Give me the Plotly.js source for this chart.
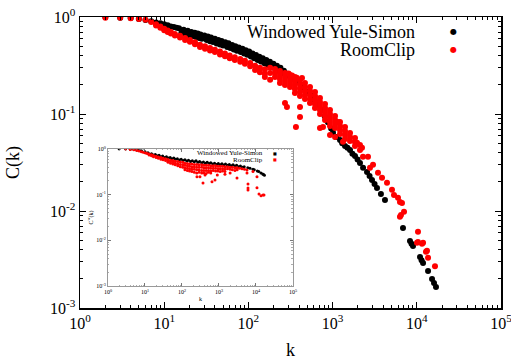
<!DOCTYPE html>
<html>
<head>
<meta charset="utf-8">
<script src="https://cdn.plot.ly/plotly-3.0.1.min.js"></script>
<style>html,body{margin:0;padding:0;background:#fff}#chart{width:511px;height:360px}</style>
</head>
<body>
<div id="chart"></div>
<script>
const seriesNames = ['Windowed Yule-Simon', 'RoomClip'];
const xTickVals = [1, 10, 100, 1000, 10000, 100000];
const xTickText = ['10<sup>0</sup>', '10<sup>1</sup>', '10<sup>2</sup>', '10<sup>3</sup>', '10<sup>4</sup>', '10<sup>5</sup>'];
const yTickVals = [0.001, 0.01, 0.1, 1];
const yTickText = ['10<sup>-3</sup>', '10<sup>-2</sup>', '10<sup>-1</sup>', '10<sup>0</sup>'];

// Main panel: Windowed Yule-Simon C(k)
const mainBlackK = [2,3,4,5,6,7,8,9,10,11,12,13,14,15,17,19,21,23,25,27,30,33,36,40,44,48,53,58,64,70,77,85,93,102,112,123,135,148,163,180,198,218,240,264,290,320,350,385,420,460,505,555,610,670,735,805,880,960,1011,1100,1225,1300,1404,1500,1610,1720,1845,1980,2115,2300,2563,2750,2937,3150,3367,3750,4188,6855,8300,8650,9020,10920,11400,11860,13600,15170,16010,16900,
  16,18,20,22,24,26,28,32,35,38,42,46,50,56,61,67,73,81,89,97,107,117,129,141,155,171,189,208,229,252,277];
const mainBlackC = [1.0,0.985,0.975,0.955,0.93,0.905,0.88,0.86,0.84,0.82,0.80,0.79,0.775,0.765,0.74,0.72,0.70,0.69,0.675,0.66,0.645,0.63,0.615,0.595,0.58,0.565,0.55,0.535,0.515,0.50,0.485,0.47,0.455,0.44,0.42,0.405,0.39,0.375,0.36,0.345,0.33,0.315,0.30,0.28,0.26,0.245,0.23,0.215,0.20,0.185,0.17,0.155,0.14,0.125,0.11,0.095,0.082,0.071,0.064,0.058,0.054,0.05,0.0468,0.045,0.0425,0.039,0.0369,0.034,0.0313,0.028,0.0252,0.023,0.0209,0.019,0.0173,0.015,0.013,0.00668,0.00491,0.0046,0.00436,0.00336,0.0031,0.00291,0.00241,0.00199,0.00181,0.00165,
  0.684,0.664,0.646,0.632,0.621,0.607,0.596,0.578,0.564,0.551,0.534,0.521,0.509,0.492,0.478,0.461,0.449,0.435,0.42,0.408,0.391,0.376,0.361,0.348,0.334,0.32,0.307,0.293,0.279,0.264,0.246];

// Main panel: RoomClip C(k)
const mainRedK = [2,3,4,5,6,7,
  8,8,9,9,10,10,11,11,12,12,13.4,13.4,15.4,15.4,17.7,17.7,20.2,20.2,23.2,23.2,26.6,26.6,30.5,30.5,35,35,40,40,46,46,52.7,52.7,60,60,69,69,80,80,91,91,105,105,120,120,137,137,157,157,157,181,181,181,
  207,207,207,237,237,237,237,272,272,272,272,312,312,312,312,357,357,357,357,357,410,410,410,410,410,470,470,470,470,470,539,539,539,539,539,618,618,618,618,618,708,708,708,708,708,813,813,813,813,813,931,931,931,931,931,1069,1069,1069,1069,1225,1225,1225,1225,1404,1404,1404,1404,1610,1610,1610,1845,1845,1845,2115,2115,
  300,330,375,
  272,287,410,410,367,708,931,1159,1069,433,769,1330,1950,
  2234,2296,2633,2781,3020,3460,3863,4428,5074,5360,5980,6310,6670,7050,6490,6310,10330,10050,10330,11530,11860,12850,13210,13600,16440];
const mainRedC = [0.98,0.98,0.97,0.955,0.935,0.89,
  0.84,0.815,0.80,0.775,0.755,0.73,0.725,0.70,0.70,0.675,0.668,0.645,0.64,0.615,0.607,0.58,0.58,0.555,0.55,0.525,0.518,0.49,0.50,0.47,0.48,0.452,0.46,0.435,0.44,0.41,0.42,0.395,0.40,0.375,0.385,0.36,0.37,0.345,0.355,0.33,0.335,0.31,0.315,0.285,0.30,0.27,0.29,0.26,0.24,0.30,0.265,0.225,
  0.291,0.265,0.241, 0.277,0.252,0.230,0.209, 0.265,0.241,0.219,0.199, 0.252,0.230,0.209,0.190, 0.241,0.219,0.199,0.181,0.165, 0.224,0.204,0.185,0.169,0.153, 0.209,0.190,0.173,0.157,0.143, 0.190,0.173,0.157,0.143,0.130, 0.169,0.153,0.139,0.127,0.1153, 0.146,0.133,0.121,0.110,0.100, 0.127,0.1153,0.105,0.0953,0.0868, 0.110,0.100,0.091,0.0828,0.0752, 0.0953,0.0868,0.0789,0.0717, 0.0828,0.0752,0.0684,0.0622, 0.0736,0.0668,0.0608,0.0553, 0.0637,0.058,0.0527, 0.0566,0.0514,0.0468, 0.0479,0.0425,
  0.262,0.25,0.236,
  0.130,0.118,0.118,0.0932,0.0736,0.0719,0.0608,0.0828,0.058,0.235,0.0736,0.0516,0.0504,
  0.0448,0.0362,0.0362,0.0279,0.030,0.0248,0.022,0.0195,0.0166,0.0146,0.0137,0.0124,0.0121,0.0098,0.0091,0.0087,0.0061,0.0047,0.0048,0.0046,0.0047,0.0038,0.0039,0.0033,0.0027];

// Inset: C^w(k)
const insetBlackK = [2,3,4,5,6,7,8,10,12,15,19,24,30,38,48,60,75,95,120,150,190,240,300,380,480,600,760,960,1200,1500,1900,2400,3000,3800,4800,6000,6900,8300,9000,10900,11900,13600,15200,16000,16900,
  13,17,21,27,34,43,54,67,85,107,135,170,215,270,340,430,540,680,860,1080,1350,1700,2150,2700,3400,4300];
const insetBlackC = [1.0,1.0,0.99,0.97,0.95,0.93,0.91,0.87,0.83,0.79,0.76,0.73,0.70,0.68,0.655,0.635,0.615,0.595,0.58,0.565,0.555,0.55,0.535,0.52,0.51,0.50,0.49,0.48,0.475,0.47,0.46,0.45,0.44,0.425,0.41,0.39,0.378,0.36,0.35,0.33,0.32,0.30,0.285,0.275,0.265,
  0.775,0.735,0.71,0.68,0.655,0.635,0.612,0.594,0.575,0.558,0.544,0.532,0.524,0.515,0.50,0.49,0.48,0.47,0.46,0.453,0.448,0.442,0.432,0.423,0.41,0.397];
const insetRedK = [3,4,5,6,7,8,9,10,11,12,
  13,13,15,15,17,17,20,20,23,23,27,27,31,31,36,36,
  42,42,42,49,49,49,57,57,57,66,66,66,77,77,77,90,90,90,105,105,105,
  120,120,120,120,140,140,140,140,160,160,160,160,185,185,185,185,215,215,215,215,250,250,250,250,290,290,290,290,340,340,340,340,390,390,390,390,450,450,450,450,520,520,520,520,600,600,600,600,
  700,700,700,810,810,810,940,940,940,1080,1080,1080,1250,1250,1250,1450,1450,1450,
  1700,1700,2000,2000,2300,2300,2700,2700,3100,3100,3600,4200,4900,
  254,306,370,647,780,3065,5710,5710,6080,6080,6080,8300,10640,10640,12050,13650,15450,16450,1450,2000,420,900];
const insetRedC = [1.0,0.98,0.96,0.93,0.90,0.87,0.85,0.83,0.81,0.79,
  0.77,0.74,0.75,0.71,0.72,0.68,0.69,0.65,0.67,0.63,0.65,0.60,0.63,0.58,0.61,0.56,
  0.59,0.54,0.51,0.57,0.53,0.49,0.56,0.51,0.47,0.54,0.49,0.45,0.53,0.47,0.43,0.52,0.46,0.41,0.51,0.45,0.40,
  0.49,0.44,0.39,0.35, 0.48,0.43,0.38,0.34, 0.47,0.42,0.37,0.33, 0.47,0.41,0.36,0.32, 0.46,0.41,0.36,0.31, 0.46,0.40,0.35,0.30, 0.45,0.40,0.35,0.31, 0.45,0.40,0.34,0.30, 0.44,0.39,0.34,0.30, 0.44,0.39,0.34,0.29, 0.44,0.39,0.34,0.31, 0.43,0.38,0.33,0.30,
  0.43,0.38,0.34, 0.43,0.38,0.33, 0.42,0.37,0.33, 0.42,0.37,0.32, 0.42,0.37,0.33, 0.41,0.36,0.32,
  0.41,0.37, 0.40,0.36, 0.40,0.35, 0.39,0.34, 0.39,0.35, 0.38,0.37,0.36,
  0.248,0.248,0.18,0.192,0.21,0.232,0.298,0.347,0.171,0.14,0.127,0.32,0.248,0.142,0.104,0.095,0.098,0.098,0.28,0.30,0.27,0.27];

const SERIF = 'Liberation Serif';
const BLACK = '#000000', RED = '#ff0000';

function minorVals(lo, hi) {
  const out = [];
  for (let e = lo; e < hi; e++) for (let m = 2; m <= 9; m++) out.push(m * Math.pow(10, e));
  return out;
}

const traces = [
  {x: mainBlackK, y: mainBlackC, name: seriesNames[0], type: 'scatter', mode: 'markers', xaxis: 'x', yaxis: 'y',
   marker: {color: BLACK, size: 6, line: {width: 0}}},
  {x: mainRedK, y: mainRedC, name: seriesNames[1], type: 'scatter', mode: 'markers', xaxis: 'x', yaxis: 'y',
   marker: {color: RED, size: 6, line: {width: 0}}},
  {x: insetBlackK, y: insetBlackC, name: seriesNames[0], type: 'scatter', mode: 'markers', xaxis: 'x2', yaxis: 'y2',
   marker: {color: BLACK, size: 3, line: {width: 0}}},
  {x: insetRedK, y: insetRedC, name: seriesNames[1], type: 'scatter', mode: 'markers', xaxis: 'x2', yaxis: 'y2',
   marker: {color: RED, size: 3, line: {width: 0}}}
];

function mainAxis(vals, text, range, minor, title, standoff) {
  return {
    type: 'log', range: range, tickmode: 'array', tickvals: vals, ticktext: text,
    ticks: 'inside', ticklen: 6, tickwidth: 1, tickcolor: '#000',
    showline: true, linecolor: '#000', linewidth: 1.5, mirror: 'allticks',
    showgrid: false, zeroline: false, ticklabeloverflow: 'allow',
    tickfont: {family: SERIF, size: 16, color: '#000'},
    minor: {tickmode: 'array', tickvals: minor, ticks: 'inside', ticklen: 3, tickwidth: 1, tickcolor: '#000', showgrid: false},
    title: {text: title, font: {family: SERIF, size: 18, color: '#000'}, standoff: standoff}
  };
}
function insetAxis(vals, text, range, minor, title, domain, anchor) {
  return {
    type: 'log', range: range, domain: domain, anchor: anchor, tickmode: 'array', tickvals: vals, ticktext: text,
    ticks: 'inside', ticklen: 3, tickwidth: 0.8, tickcolor: '#555',
    showline: true, linecolor: '#999', linewidth: 1, mirror: 'allticks',
    showgrid: false, zeroline: false, ticklabeloverflow: 'allow',
    tickfont: {family: SERIF, size: 6, color: '#000'},
    minor: {tickmode: 'array', tickvals: minor, ticks: 'inside', ticklen: 1.5, tickwidth: 0.6, tickcolor: '#777', showgrid: false},
    title: {text: title, font: {family: SERIF, size: 6, color: '#000'}, standoff: 2}
  };
}

const layout = {
  width: 511, height: 360,
  margin: {l: 80, r: 10, t: 17, b: 52},
  paper_bgcolor: '#fff', plot_bgcolor: '#fff',
  showlegend: false, hovermode: false,
  font: {family: SERIF, color: '#000'},
  xaxis: mainAxis(xTickVals, xTickText, [0, 5], minorVals(0, 5), 'k', 16),
  yaxis: mainAxis(yTickVals, yTickText, [-3, 0], minorVals(-3, 0), 'C(k)', 25),
  xaxis2: insetAxis(xTickVals, xTickText, [0, 5], minorVals(0, 5), 'k', [0.0665, 0.5059], 'y2'),
  yaxis2: insetAxis(yTickVals, yTickText, [-3, 0], minorVals(-3, 0), 'C<sup>w</sup>(k)', [0.0756, 0.5464], 'x2'),
  annotations: [
    {xref: 'paper', yref: 'paper', x: 0.8005, y: 0.9495, xanchor: 'right', yanchor: 'middle', showarrow: false,
     text: seriesNames[0], font: {family: SERIF, size: 18, color: '#000'}},
    {xref: 'paper', yref: 'paper', x: 0.8005, y: 0.8866, xanchor: 'right', yanchor: 'middle', showarrow: false,
     text: seriesNames[1], font: {family: SERIF, size: 18, color: '#000'}},
    {xref: 'paper', yref: 'paper', x: 0.886, y: 0.9495, xanchor: 'center', yanchor: 'middle', showarrow: false,
     text: '●', font: {family: 'DejaVu Sans', size: 8, color: BLACK}},
    {xref: 'paper', yref: 'paper', x: 0.886, y: 0.8866, xanchor: 'center', yanchor: 'middle', showarrow: false,
     text: '●', font: {family: 'DejaVu Sans', size: 8, color: RED}},
    {xref: 'paper', yref: 'paper', x: 0.4394, y: 0.5326, xanchor: 'right', yanchor: 'middle', showarrow: false,
     text: seriesNames[0], font: {family: SERIF, size: 7, color: '#000'}},
    {xref: 'paper', yref: 'paper', x: 0.4394, y: 0.5086, xanchor: 'right', yanchor: 'middle', showarrow: false,
     text: seriesNames[1], font: {family: SERIF, size: 7, color: '#000'}},
    {xref: 'paper', yref: 'paper', x: 0.463, y: 0.5326, xanchor: 'center', yanchor: 'middle', showarrow: false,
     text: '■', font: {family: 'DejaVu Sans', size: 4, color: BLACK}},
    {xref: 'paper', yref: 'paper', x: 0.463, y: 0.5086, xanchor: 'center', yanchor: 'middle', showarrow: false,
     text: '■', font: {family: 'DejaVu Sans', size: 4, color: RED}}
  ]
};

Plotly.newPlot('chart', traces, layout, {displayModeBar: false, staticPlot: true});
</script>
</body>
</html>
